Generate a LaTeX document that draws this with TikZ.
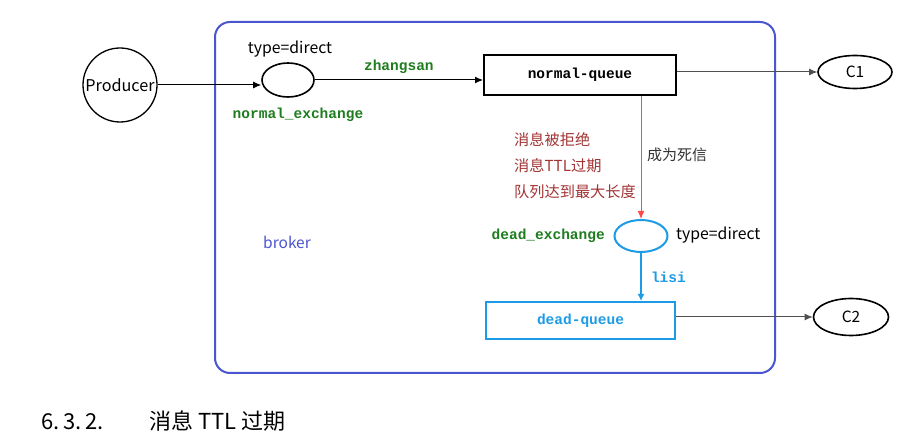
\documentclass[tikz,border=0pt]{standalone}
\usepackage{fontspec}
\setmainfont{Noto Sans CJK SC}
\setmonofont{Liberation Mono}
\usetikzlibrary{shapes.geometric,arrows.meta}
\definecolor{brokerblue}{HTML}{4A56D0}
\definecolor{exgreen}{HTML}{1E7D1E}
\definecolor{deadblue}{HTML}{1E9BE6}
\definecolor{redline}{HTML}{FF4A4A}
\definecolor{reasonred}{HTML}{A33434}
\definecolor{linegray}{HTML}{505050}
\tikzset{
  arr/.style={-{Latex[length=8pt,width=7pt]}, line width=1pt},
  monolab/.style={font=\ttfamily\bfseries\fontsize{14.5}{16}\selectfont, inner sep=0pt},
  sanslab/.style={font=\fontsize{15.8}{18}\selectfont, inner sep=0pt},
  cjklab/.style={font=\fontsize{15.2}{17}\selectfont, inner sep=0pt, anchor=west},
  ell/.style={ellipse, draw, inner sep=0pt, line width=1.6pt},
  queue/.style={rectangle, draw, inner sep=0pt, line width=2pt, font=\ttfamily\bfseries\fontsize{14.5}{16}\selectfont},
}
\begin{document}
\begin{tikzpicture}[x=1pt,y=-1pt]
\useasboundingbox (0,0) rectangle (910,435);
\fill[white] (0,0) rectangle (910,435);
% broker
\draw[brokerblue, line width=2pt, rounded corners=15pt] (215,22) rectangle (775,373);
\node[sanslab, text=brokerblue, font=\fontsize{15.5}{18}\selectfont] (broker) at (287,242) {broker};
% producer
\node[circle, draw, line width=1.3pt, minimum size=74pt, inner sep=0pt, font=\fontsize{16.2}{18}\selectfont] (prod) at (120,85) {Producer};
% normal exchange
\node[ell, minimum width=52pt, minimum height=34pt] (normex) at (288,80) {};
\node[sanslab] (t1) at (290,49) {type=direct};
\node[monolab, text=exgreen] (nexlab) at (298,115) {normal\_exchange};
% normal queue
\node[queue, minimum width=192pt, minimum height=40pt] (nq) at (580,75) {normal-queue};
% C1
\node[ell, minimum width=74pt, minimum height=33pt, font=\fontsize{15.5}{18}\selectfont] (c1) at (855,72) {C1};
% dead exchange
\node[ell, draw=deadblue, line width=2pt, minimum width=53pt, minimum height=32pt] (deadex) at (641,236) {};
\node[monolab, text=exgreen, anchor=east] (dexlab) at (605,236) {dead\_exchange};
\node[sanslab, anchor=west] (t2) at (676,235) {type=direct};
% dead queue
\node[queue, draw=deadblue, text=deadblue, minimum width=189pt, minimum height=37pt] (dq) at (580.5,320.5) {dead-queue};
% C2
\node[ell, minimum width=75pt, minimum height=37pt, font=\fontsize{15.5}{18}\selectfont] (c2) at (851,317) {C2};
% reasons
\node[cjklab, text=reasonred] (r1) at (514,140) {消息被拒绝};
\node[cjklab, text=reasonred] (r2) at (514,166) {消息TTL过期};
\node[cjklab, text=reasonred] (r3) at (514,192) {队列达到最大长度};
\node[cjklab, text=black!80, font=\fontsize{15}{17}\selectfont] (dl) at (647,155) {成为死信};
% connectors
\draw[arr] (prod.east) -- (prod.east -| normex.west);
\draw[arr] (normex.east) -- (normex.east -| nq.west)
  node[monolab, text=exgreen, midway, above=6pt] (zs) {zhangsan};
\draw[arr, linegray] (nq.east |- c1.west) -- (c1.west);
\draw[-{Latex[length=8pt,width=7pt]}, redline, line width=1pt] (deadex.north |- nq.south) -- (deadex.north);
\draw[-{Latex[length=7pt,width=7pt]}, deadblue, line width=2pt] (deadex.south) -- (deadex.south |- dq.north)
  node[monolab, text=deadblue, pos=0.5, right=9pt] (lisi) {lisi};
\draw[arr, linegray] (dq.east |- c2.west) -- (c2.west);
% heading
\node[anchor=west, inner sep=0pt, font=\fontsize{22}{24}\selectfont] (head) at (41,421) {6.\,3.\,2.\hspace{46pt}消息 TTL 过期};
\end{tikzpicture}
\end{document}
